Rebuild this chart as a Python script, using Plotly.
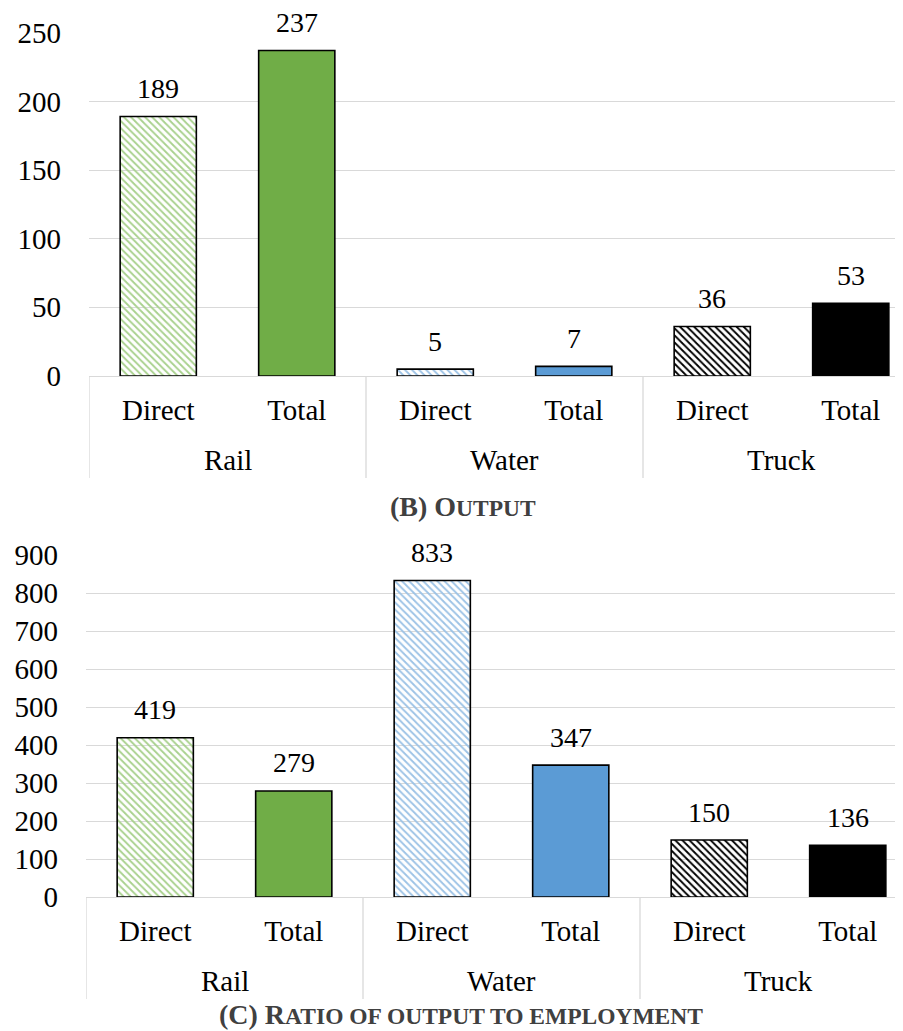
import plotly.graph_objects as go

groups = ["Rail", "Rail", "Water", "Water", "Truck", "Truck"]
kinds = ["Direct", "Total", "Direct", "Total", "Direct", "Total"]
output_vals = [189, 237, 5, 7, 36, 53]
ratio_vals = [419, 279, 833, 347, 150, 136]

bar_colors = ["#A9D18E", "#70AD47", "#9DC3E6", "#5B9BD5", "#000000", "#000000"]
shapes = ["\\", "", "\\", "", "\\", ""]

FONT = "Liberation Serif"
W, H = 903, 1031
L, R = 78, 3
PW = W - L - R
SLOT = 138.5

keys = [f"{g} {k}" for g, k in zip(groups, kinds)]

def ydom(top_px, bot_px):
    return [1 - bot_px / H, 1 - top_px / H]

# panel geometry (pixels)
panels = [
    dict(vals=output_vals, xa="x", ya="y", left=81, top=24.7, bottom=368, rng=[0, 250], dtick=50),
    dict(vals=ratio_vals, xa="x2", ya="y2", left=78, top=547, bottom=889, rng=[0, 900], dtick=100),
]

fig = go.Figure()
annotations = []
shapes_list = []
layout = {}

for i, p in enumerate(panels):
    sfx = "" if i == 0 else str(i + 1)
    fig.add_trace(go.Bar(
        x=keys, y=p["vals"], xaxis=p["xa"], yaxis=p["ya"],
        marker=dict(color=bar_colors,
                    line=dict(color="black", width=1.6),
                    pattern=dict(shape=shapes, fgcolor=bar_colors, bgcolor="white",
                                 size=5, solidity=0.38, fillmode="replace")),
        showlegend=False, width=0.55, hoverinfo="skip",
    ))
    xw = (W - R - p["left"]) / SLOT
    layout["xaxis" + sfx] = dict(
        domain=[(p["left"] - L) / PW, 1], anchor="y" + sfx, type="category",
        range=[-0.5, -0.5 + xw], tickvals=keys, ticktext=kinds,
        showline=True, linecolor="#D9D9D9", linewidth=1.3, showgrid=False, ticks="",
        tickfont=dict(family=FONT, size=29, color="black"), ticklabelstandoff=8,
        automargin=False, fixedrange=True,
    )
    layout["yaxis" + sfx] = dict(
        domain=ydom(p["top"], p["bottom"]), anchor="x" + sfx, range=p["rng"], dtick=p["dtick"],
        showgrid=True, gridcolor="#D9D9D9", gridwidth=1.3, zeroline=False, showline=False,
        tickfont=dict(family=FONT, size=29, color="black"), ticklabelstandoff=27,
        automargin=False, fixedrange=True,
    )
    # value labels
    for k, v in zip(keys, p["vals"]):
        annotations.append(dict(x=k, y=v, xref=p["xa"], yref=p["ya"], text=str(v),
                                showarrow=False, yanchor="middle", yshift=28,
                                font=dict(family=FONT, size=28, color="black")))
    # group labels and dividers
    axis_paper = 1 - p["bottom"] / H
    seen = []
    for g in groups:
        if g not in seen:
            seen.append(g)
    for g in seen:
        idx = [j for j, gg in enumerate(groups) if gg == g]
        annotations.append(dict(x=sum(idx) / len(idx), y=axis_paper - 84 / H, xref=p["xa"], yref="paper",
                                text=g, showarrow=False, yanchor="middle",
                                font=dict(family=FONT, size=29, color="black")))
        shapes_list.append(dict(type="line", xref=p["xa"], yref="paper",
                                x0=idx[0] - 0.5, x1=idx[0] - 0.5,
                                y0=axis_paper, y1=axis_paper - 102 / H,
                                line=dict(color="#D9D9D9", width=1.3)))

annotations.append(dict(
    text="<b>(B) O<span style='font-size:23.5px'>UTPUT</span></b>", xref="paper", yref="paper",
    x=(455 - L) / PW, y=1 - 498 / H, showarrow=False, yanchor="middle",
    font=dict(family=FONT, size=28, color="#404040")))
annotations.append(dict(
    text="<b>(C) R<span style='font-size:23.5px'>ATIO OF OUTPUT TO EMPLOYMENT</span></b>",
    xref="paper", yref="paper",
    x=(453 - L) / PW, y=1 - 1024 / H, showarrow=False, yanchor="bottom",
    font=dict(family=FONT, size=28, color="#404040")))

fig.update_layout(
    width=W, height=H,
    margin=dict(l=L, r=R, t=0, b=0),
    paper_bgcolor="white", plot_bgcolor="white",
    annotations=annotations, shapes=shapes_list,
    **layout,
)

fig.write_html("out.html")
